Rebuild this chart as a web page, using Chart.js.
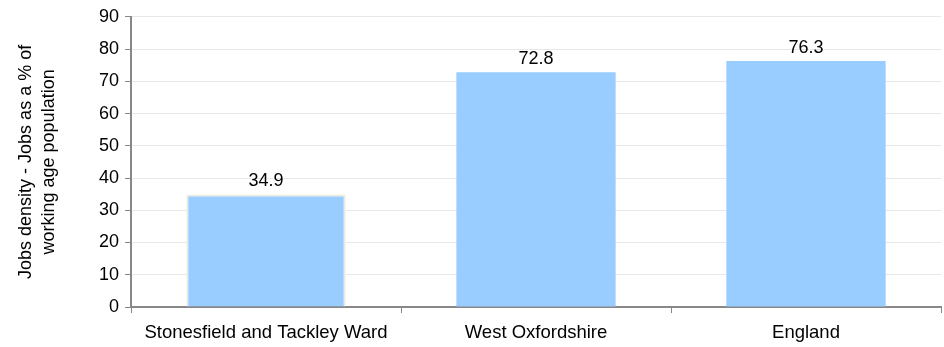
<!DOCTYPE html>
<html>
<head>
<meta charset="utf-8">
<script src="https://cdn.jsdelivr.net/npm/chart.js@4"></script>
<style>
  html, body { margin: 0; padding: 0; background: #fff; }
  #wrap { width: 944px; height: 347px; position: relative; }
</style>
</head>
<body>
<div id="wrap"><canvas id="jobsChart"></canvas></div>
<script>
const categories = ['Stonesfield and Tackley Ward', 'West Oxfordshire', 'England'];
const jobsDensity = [34.9, 72.8, 76.3];
const yTicks = [0, 10, 20, 30, 40, 50, 60, 70, 80, 90];

// Value labels over each bar
const barLabels = {
    id: 'barLabels',
    afterDatasetsDraw(chart) {
        const ctx = chart.ctx;
        const meta = chart.getDatasetMeta(0);
        ctx.save();
        ctx.font = '18px "Liberation Sans", Arial, sans-serif';
        ctx.fillStyle = '#000';
        ctx.textAlign = 'center';
        ctx.textBaseline = 'bottom';
        meta.data.forEach((bar, i) => {
            ctx.fillText(jobsDensity[i].toFixed(1), bar.x, bar.y - 4);
        });
        ctx.restore();
    }
};

document.addEventListener('DOMContentLoaded', () => {
    const ctx = document.getElementById('jobsChart').getContext('2d');
    Chart.defaults.font.family = '"Liberation Sans", Arial, sans-serif';
    Chart.defaults.font.size = 18;
    Chart.defaults.color = '#000';

    new Chart(ctx, {
        type: 'bar',
        data: {
            labels: categories,
            datasets: [{
                data: jobsDensity,
                backgroundColor: '#99CCFF',
                borderColor: ['#ECE9DF', 'rgba(0,0,0,0)', 'rgba(0,0,0,0)'],
                borderWidth: [2, 0, 0],
                categoryPercentage: 1,
                barPercentage: 0.59
            }]
        },
        options: {
            responsive: true,
            maintainAspectRatio: false,
            animation: false,
            layout: { padding: { top: 15, right: 3, left: 0, bottom: 0 } },
            plugins: {
                legend: { display: false },
                tooltip: { enabled: false }
            },
            scales: {
                x: {
                    grid: {
                        drawOnChartArea: false,
                        offset: true,
                        tickLength: 6,
                        tickColor: '#888'
                    },
                    border: { color: '#888', width: 2 },
                    ticks: { padding: 9, maxRotation: 0, font: { size: 18.5 } },
                    afterFit(scale) { scale.height = 40; }
                },
                y: {
                    min: 0,
                    max: 90,
                    afterBuildTicks(scale) {
                        scale.ticks = yTicks.map(v => ({ value: v }));
                    },
                    grid: {
                        color: '#E8E8E8',
                        tickColor: '#888',
                        tickLength: 6
                    },
                    border: { color: '#888', width: 2 },
                    ticks: { padding: 6 },
                    title: {
                        display: true,
                        text: ['Jobs density - Jobs as a % of', 'working age population'],
                        font: { size: 18, lineHeight: 1.25 },
                        padding: { top: 15, bottom: 0 }
                    },
                    afterFit(scale) { scale.width = 131; }
                }
            }
        },
        plugins: [barLabels]
    });
});
</script>
</body>
</html>
